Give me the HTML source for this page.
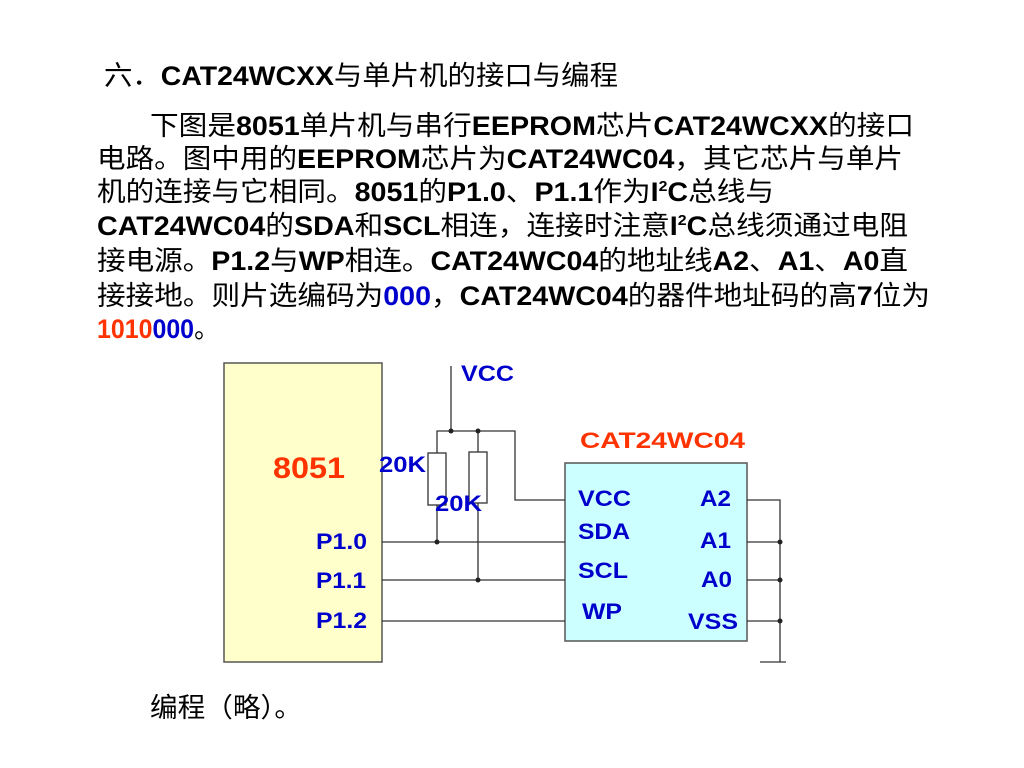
<!DOCTYPE html>
<html><head><meta charset="utf-8"><style>
body{margin:0;width:1024px;height:768px;background:#fff;position:relative;overflow:hidden;}
svg text{font-family:"Liberation Sans","Noto Sans CJK SC",sans-serif;}
.t{font-size:27px;fill:#000}
.b{font-weight:bold}
.l{font-weight:bold;font-size:22px;fill:#0000cc}
</style></head><body>
<svg style="position:absolute;left:0;top:0" width="1024" height="768">
<g class="t">
<text x="104" y="85" textLength="514" lengthAdjust="spacingAndGlyphs">六．<tspan class="b">CAT24WCXX</tspan>与单片机的接口与编程</text>
<text x="150" y="135" textLength="764" lengthAdjust="spacingAndGlyphs">下图是<tspan class="b">8051</tspan>单片机与串行<tspan class="b">EEPROM</tspan>芯片<tspan class="b">CAT24WCXX</tspan>的接口</text>
<text x="97" y="168" textLength="806" lengthAdjust="spacingAndGlyphs">电路。图中用的<tspan class="b">EEPROM</tspan>芯片为<tspan class="b">CAT24WC04</tspan>，其它芯片与单片</text>
<text x="97" y="201" textLength="677" lengthAdjust="spacingAndGlyphs">机的连接与它相同。<tspan class="b">8051</tspan>的<tspan class="b">P1.0</tspan>、<tspan class="b">P1.1</tspan>作为<tspan class="b">I</tspan><tspan class="b" font-size="15" dy="-10">2</tspan><tspan class="b" dy="10">C</tspan>总线与</text>
<text x="97" y="235" textLength="811" lengthAdjust="spacingAndGlyphs"><tspan class="b">CAT24WC04</tspan>的<tspan class="b">SDA</tspan>和<tspan class="b">SCL</tspan>相连，连接时注意<tspan class="b">I</tspan><tspan class="b" font-size="15" dy="-10">2</tspan><tspan class="b" dy="10">C</tspan>总线须通过电阻</text>
<text x="97" y="270" textLength="811" lengthAdjust="spacingAndGlyphs">接电源。<tspan class="b">P1.2</tspan>与<tspan class="b">WP</tspan>相连。<tspan class="b">CAT24WC04</tspan>的地址线<tspan class="b">A2</tspan>、<tspan class="b">A1</tspan>、<tspan class="b">A0</tspan>直</text>
<text x="97" y="305" textLength="833" lengthAdjust="spacingAndGlyphs">接接地。则片选编码为<tspan class="b" fill="#0000cc">000</tspan>，<tspan class="b">CAT24WC04</tspan>的器件地址码的高<tspan class="b">7</tspan>位为</text>
<text x="97" y="338" textLength="122" lengthAdjust="spacingAndGlyphs"><tspan class="b" fill="#ff3300">1010</tspan><tspan class="b" fill="#0000cc">000</tspan>。</text>
<text x="150" y="717" textLength="152" lengthAdjust="spacingAndGlyphs">编程（略）。</text>
</g>

<rect x="224" y="363" width="158" height="299" fill="#ffffcc" stroke="#555" stroke-width="1.5"/>
<rect x="565" y="463" width="182" height="178" fill="#ccffff" stroke="#555" stroke-width="1.5"/>
<g stroke="#333" stroke-width="1.3" fill="none">
<line x1="451" y1="366" x2="451" y2="431"/>
<polyline points="437,453 437,431 515,431 515,500 565,500"/>
<line x1="478" y1="431" x2="478" y2="452"/>
<rect x="428" y="453" width="18" height="52" fill="#fff"/>
<rect x="469" y="452" width="18" height="51" fill="#fff"/>
<line x1="437" y1="505" x2="437" y2="542"/>
<line x1="478" y1="503" x2="478" y2="580"/>
<line x1="382" y1="542" x2="565" y2="542"/>
<line x1="382" y1="580" x2="565" y2="580"/>
<line x1="382" y1="621" x2="565" y2="621"/>
<polyline points="747,500 780,500 780,662"/>
<line x1="747" y1="542" x2="780" y2="542"/>
<line x1="747" y1="580" x2="780" y2="580"/>
<line x1="747" y1="621" x2="780" y2="621"/>
<line x1="760" y1="662" x2="786" y2="662"/>
</g>
<g fill="#222">
<circle cx="451" cy="431" r="2.5"/><circle cx="478" cy="431" r="2.5"/>
<circle cx="437" cy="542" r="2.5"/><circle cx="478" cy="580" r="2.5"/>
<circle cx="780" cy="542" r="2.5"/><circle cx="780" cy="580" r="2.5"/><circle cx="780" cy="621" r="2.5"/>
</g>
<g class="l" lengthAdjust="spacingAndGlyphs">
<text x="461" y="381" textLength="53" lengthAdjust="spacingAndGlyphs">VCC</text>
<text x="379" y="472" textLength="47" lengthAdjust="spacingAndGlyphs">20K</text>
<text x="435" y="511" textLength="47" lengthAdjust="spacingAndGlyphs">20K</text>
<text x="273" y="478" textLength="72" lengthAdjust="spacingAndGlyphs" font-size="30" fill="#ff3300">8051</text>
<text x="580" y="448" textLength="165" lengthAdjust="spacingAndGlyphs" fill="#ff3300">CAT24WC04</text>
<text x="316" y="549" textLength="51" lengthAdjust="spacingAndGlyphs">P1.0</text>
<text x="316" y="588" textLength="50" lengthAdjust="spacingAndGlyphs">P1.1</text>
<text x="316" y="628" textLength="51" lengthAdjust="spacingAndGlyphs">P1.2</text>
<text x="578" y="506" textLength="53" lengthAdjust="spacingAndGlyphs">VCC</text>
<text x="578" y="539" textLength="52" lengthAdjust="spacingAndGlyphs">SDA</text>
<text x="578" y="578" textLength="50" lengthAdjust="spacingAndGlyphs">SCL</text>
<text x="582" y="619" textLength="40" lengthAdjust="spacingAndGlyphs">WP</text>
<text x="700" y="506" textLength="31" lengthAdjust="spacingAndGlyphs">A2</text>
<text x="700" y="548" textLength="31" lengthAdjust="spacingAndGlyphs">A1</text>
<text x="701" y="587" textLength="31" lengthAdjust="spacingAndGlyphs">A0</text>
<text x="688" y="629" textLength="50" lengthAdjust="spacingAndGlyphs">VSS</text>
</g>
</svg>
</body></html>
